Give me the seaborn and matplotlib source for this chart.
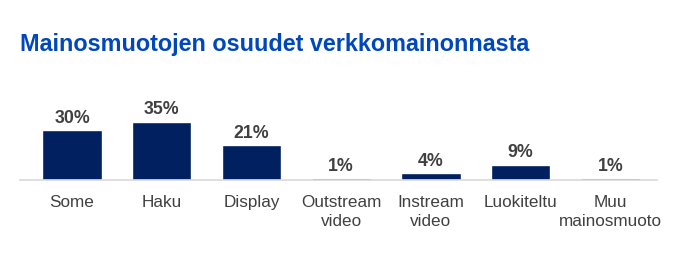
import matplotlib
matplotlib.use("Agg")
import matplotlib.pyplot as plt
import seaborn as sns
import pandas as pd

categories = ["Some", "Haku", "Display", "Outstream\nvideo", "Instream\nvideo", "Luokiteltu", "Muu\nmainosmuoto"]
values = [30, 35, 21, 1, 4, 9, 1]
labels = ["30%", "35%", "21%", "1%", "4%", "9%", "1%"]
title = "Mainosmuotojen osuudet verkkomainonnasta"

sns.set_theme(style="white")
plt.rcParams["font.family"] = ["Liberation Sans", "DejaVu Sans"]

df = pd.DataFrame({"cat": categories, "val": values})

W, H = 700, 264
fig = plt.figure(figsize=(W / 100, H / 100), dpi=100)
ax = fig.add_axes([20 / W, (H - 180) / H, (657 - 20) / W, 90 / H])

sns.barplot(data=df, x="cat", y="val", color="#002060", width=0.66,
            saturation=1, ax=ax, zorder=2)

ax.set_xlim(-0.58, 6.52)
ax.set_ylim(0, 54.3)
for i, (v, lab) in enumerate(zip(values, labels)):
    ax.annotate(lab, (i, v), xytext=(0, 2.6), textcoords="offset points",
                ha="center", va="bottom", fontsize=12.8, fontweight="bold",
                color="#404040")

ax.set_xlabel("")
ax.set_ylabel("")
ax.set_yticks([])
for s in ["top", "right", "left"]:
    ax.spines[s].set_visible(False)
ax.spines["bottom"].set_color("#d9d9d9")
ax.spines["bottom"].set_linewidth(1.2)
ax.spines["bottom"].set_zorder(3)
ax.tick_params(axis="x", length=0, pad=10.5, labelsize=12.3, labelcolor="#404040")
for t in ax.get_xticklabels():
    t.set_linespacing(1.34)

fig.text(20 / W, 1 - 44 / H, title, fontsize=16.8, fontweight="bold",
         color="#0047BB", ha="left", va="center")

fig.savefig("out.png", dpi=100, facecolor="white")
